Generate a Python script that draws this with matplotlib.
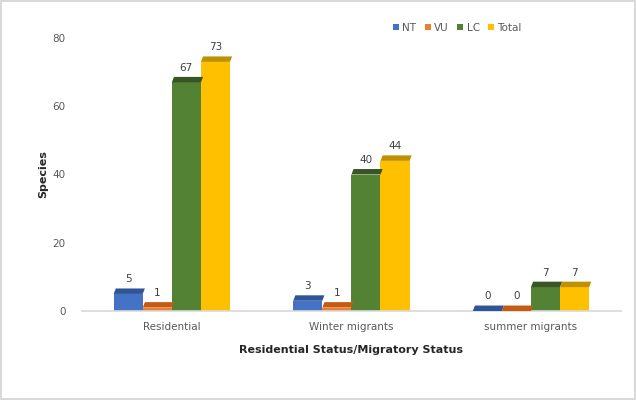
import numpy as np
import matplotlib.pyplot as plt
from matplotlib.patches import Polygon

categories = ['Residential', 'Winter migrants', 'summer migrants']
series = ['NT', 'VU', 'LC', 'Total']
NT = [5, 3, 0]
VU = [1, 1, 0]
LC = [67, 40, 7]
Total = [73, 44, 7]
values = [NT, VU, LC, Total]

colors = ['#4472C4', '#ED7D31', '#548235', '#FFC000']
tops = ['#2F5597', '#C55A11', '#375623', '#BF9000']

fig = plt.figure(figsize=(6.36, 4.0), dpi=100)
fig.patch.set_edgecolor('#D9D9D9')
fig.patch.set_linewidth(1.5)
ax = fig.add_axes([0.129, 0.2225, 0.847, 0.6825])

x = np.arange(len(categories))
w = 0.162
cap = 1.6   # depth of top face, in data units
dx = 0.012
for i, (s, vals) in enumerate(zip(series, values)):
    xs = x + (i - 1.5) * w
    ax.bar(xs, vals, width=w, color=colors[i], label=s, zorder=2)
    for xc, v in zip(xs, vals):
        x0 = xc - w / 2
        poly = Polygon([(x0, v), (x0 + w, v), (x0 + w + dx, v + cap), (x0 + dx, v + cap)],
                       closed=True, facecolor=tops[i], edgecolor='none', zorder=3)
        ax.add_patch(poly)
        ax.text(xc, v + cap + 1.2, str(v), ha='center', va='bottom',
                fontsize=7.5, color='#404040')

ax.set_xlim(-0.5, 2.5)
ax.set_ylim(0, 80)
ax.set_yticks([0, 20, 40, 60, 80])
ax.set_xticks(x)
ax.set_xticklabels(categories, fontsize=7.5, color='#595959')
ax.tick_params(axis='y', labelsize=7.5, labelcolor='#595959', length=0, pad=12)
ax.tick_params(axis='x', length=0, pad=8)
for sp in ['top', 'right', 'left']:
    ax.spines[sp].set_visible(False)
ax.spines['bottom'].set_color('#D9D9D9')
ax.spines['bottom'].set_linewidth(1.2)

ax.set_xlabel('Residential Status/Migratory Status', fontsize=8, fontweight='bold',
              color='#262626', labelpad=9)
ax.set_ylabel('Species', fontsize=8, fontweight='bold', color='#262626', labelpad=3)

ax.legend(loc='upper left', bbox_to_anchor=(0.56, 1.09), ncol=4, frameon=False,
          fontsize=7.5, handlelength=0.6, handleheight=0.6, handletextpad=0.3,
          columnspacing=0.8, labelcolor='#595959')

fig.savefig('out.png', dpi=100, edgecolor=fig.get_edgecolor())
